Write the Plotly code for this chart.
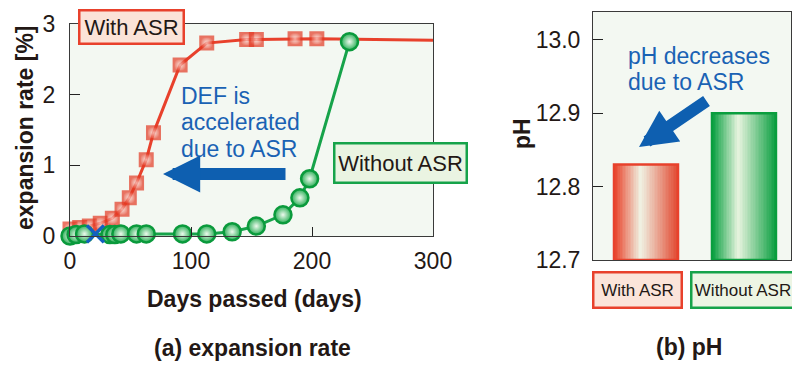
import plotly.graph_objects as go

# ---------------- data ----------------
# (a) expansion rate
red_days = [0, 8, 16, 25, 35, 43, 49, 55, 63, 69, 91, 113, 146, 154, 186, 204, 300]
red_vals = [0.10, 0.12, 0.14, 0.18, 0.25, 0.38, 0.54, 0.75, 1.08, 1.46, 2.42, 2.73, 2.78, 2.78, 2.79, 2.79, 2.77]
red_has_marker = [1] * 16 + [0]   # last point only extends the line to the frame

green_days = [0, 5, 12, 33, 37, 42, 55, 63, 93, 113, 134, 154, 176, 190, 198, 231]
green_vals = [0.00, 0.02, 0.03, 0.02, 0.02, 0.03, 0.03, 0.03, 0.03, 0.03, 0.06, 0.14, 0.30, 0.54, 0.81, 2.75]

cross_days = [21]
cross_vals = [0.03]

x_ticks = [0, 100, 200, 300]
y_ticks = [0, 1, 2, 3]

# (b) pH
ph_categories = ["With ASR", "Without ASR"]
ph_values = [12.83, 12.90]
ph_ticks = [12.7, 12.8, 12.9, 13.0]
ph_base = 12.7

# ---------------- styles ----------------
W, H = 800, 372
PAGE_OFFSET = 8   # the html body margin shifts the figure by 8px
FONT = "Liberation Sans, Arial, sans-serif"
TXT = "#231815"
RED = "#e8412c"
GREEN = "#16a34a"
BLUE = "#1a62b4"
ARROW = "#0e5fb0"
BG = "#f3f8f2"


def px_x(p):
    return (p - PAGE_OFFSET) / W


def px_y(p):
    return 1 - (p - PAGE_OFFSET) / H


def hex2rgb(h):
    h = h.lstrip("#")
    return tuple(int(h[i:i + 2], 16) for i in (0, 2, 4))


def lerp(c1, c2, t):
    a, b = hex2rgb(c1), hex2rgb(c2)
    return "rgb(%d,%d,%d)" % tuple(round(a[i] + (b[i] - a[i]) * t) for i in range(3))


def grad(edge_l, pale, edge_r, t, tc=0.42):
    if t <= tc:
        return lerp(edge_l, pale, t / tc)
    return lerp(pale, edge_r, (t - tc) / (1 - tc))


fig = go.Figure()

# ---- left chart traces ----
fig.add_trace(go.Scatter(
    x=red_days, y=red_vals, mode="lines+markers", xaxis="x", yaxis="y",
    line=dict(color=RED, width=3),
    marker=dict(symbol="square", size=[13 if m else 0 for m in red_has_marker],
                color="#e63c26", gradient=dict(type="radial", color="#fcdcd6"),
                line=dict(width=[2 if m else 0 for m in red_has_marker], color="#e33a24")),
    cliponaxis=False, hoverinfo="skip"))

fig.add_trace(go.Scatter(
    x=green_days, y=green_vals, mode="lines+markers", xaxis="x", yaxis="y",
    line=dict(color=GREEN, width=3),
    marker=dict(symbol="circle", size=17, color="#2aae56",
                gradient=dict(type="radial", color="#eefaee"),
                line=dict(width=2.5, color="#0a9a3c")),
    cliponaxis=False, hoverinfo="skip"))

fig.add_trace(go.Scatter(
    x=cross_days, y=cross_vals, mode="markers", xaxis="x", yaxis="y",
    marker=dict(symbol="x-thin", size=17, line=dict(width=3.5, color="#1560c0")),
    cliponaxis=False, hoverinfo="skip"))

# ---- right chart: gradient bars made of thin vertical strips ----
BAR_W = 0.653
N_STRIP = 40
strip_w = BAR_W / N_STRIP
red_edges = ("#e83a22", "#f0f3e4", "#e24a32")
green_edges = ("#009c3a", "#e8f4df", "#0ea043")
for j in range(N_STRIP):
    t = (j + 0.5) / N_STRIP
    fig.add_trace(go.Bar(
        x=ph_categories, y=[v - ph_base for v in ph_values], base=ph_base,
        xaxis="x2", yaxis="y2",
        width=strip_w * 1.15, offset=-BAR_W / 2 + j * strip_w,
        marker=dict(color=[grad(*red_edges, t), grad(*green_edges, t)], line=dict(width=0)),
        hoverinfo="skip"))

fig.add_trace(go.Bar(
    x=ph_categories, y=[v - ph_base for v in ph_values], base=ph_base,
    xaxis="x2", yaxis="y2", width=BAR_W,
    marker=dict(color="rgba(0,0,0,0)", line=dict(width=2.5, color=[RED, "#0a9e3e"])),
    hoverinfo="skip"))

axis_common = dict(showgrid=False, zeroline=False, showline=True, mirror=True, automargin=False,
                   linecolor="#3a3a3a", linewidth=1, tickcolor="#222",
                   tickfont=dict(family=FONT, size=23, color=TXT))

fig.update_layout(
    width=W, height=H, margin=dict(l=0, r=0, t=0, b=0, pad=0, autoexpand=False),
    paper_bgcolor="white", plot_bgcolor=BG, showlegend=False,
    barmode="overlay", font=dict(family=FONT, color=TXT),
    xaxis=dict(domain=[px_x(70), px_x(433)], range=[0, 300], tickvals=x_ticks, ticks="inside",
               ticklen=9, ticklabelstandoff=4, anchor="y", **axis_common),
    yaxis=dict(domain=[px_y(236), px_y(24)], range=[0, 3], tickvals=y_ticks, ticks="inside",
               ticklen=10, ticklabelstandoff=9, anchor="x", **axis_common),
    xaxis2=dict(domain=[px_x(593), px_x(791)], range=[-0.541, 1.480], type="category",
                showticklabels=False, ticks="", anchor="y2", **axis_common),
    yaxis2=dict(domain=[px_y(260), px_y(12)], range=[12.7, 13.038], tickvals=ph_ticks,
                tickformat=".1f", ticks="inside", ticklen=10, ticklabelstandoff=7, anchor="x2",
                **axis_common),
)

ann = []


def text_ann(text, x, y, size=23, bold=False, color=TXT, angle=0, xanchor="center"):
    ann.append(dict(text=("<b>%s</b>" % text) if bold else text, x=px_x(x), y=px_y(y),
                    xref="paper", yref="paper", showarrow=False, xanchor=xanchor,
                    yanchor="middle", textangle=angle,
                    font=dict(family=FONT, size=size, color=color)))


def box_ann(text, cx, cy, w, h, fill, border, size):
    ann.append(dict(text=text, x=px_x(cx), y=px_y(cy), xref="paper", yref="paper",
                    xanchor="center", yanchor="middle", showarrow=False,
                    width=w, height=h, bgcolor=fill, bordercolor=border,
                    borderwidth=2.5, borderpad=1, font=dict(family=FONT, size=size, color=TXT)))


# axis titles and captions
text_ann("expansion rate [%]", 25, 128, size=23, bold=True, angle=-90)
text_ann("Days passed (days)", 254, 299, size=23, bold=True)
text_ann("(a) expansion rate", 252, 348, size=23, bold=True)
text_ann("pH", 522, 134, size=23, bold=True, angle=-90)
text_ann("(b) pH", 689, 347, size=23, bold=True)

# blue notes (one annotation per line for a tight line spacing)
LINE_STEP = 26.5
for i, line in enumerate(["DEF is", "accelerated", "due to ASR"]):
    text_ann(line, 179, 95.5 + i * LINE_STEP, size=23, color=BLUE, xanchor="left")
for i, line in enumerate(["pH decreases", "due to ASR"]):
    text_ann(line, 626, 55.75 + i * LINE_STEP, size=23, color=BLUE, xanchor="left")

# series label boxes (left chart)
box_ann("With ASR", 131, 27.5, 100, 29, "#fbe3d8", RED, 22)
box_ann("Without ASR", 400, 162.5, 128, 35, "#eaf4e2", GREEN, 22)

# category boxes (right chart)
cat_box = [(637, 84, "#fbe4da", RED), (742.5, 99, "#edf5e4", GREEN)]
for cat, (cx, w, fill, border) in zip(ph_categories, cat_box):
    box_ann(cat, cx, 289.5, w, 31, fill, border, 17)

# arrows
ann.append(dict(text="", x=px_x(163), y=px_y(174), xref="paper", yref="paper",
                showarrow=True, ax=124, ay=0, arrowhead=2, arrowwidth=12, arrowsize=0.62,
                arrowcolor=ARROW))
ann.append(dict(text="", x=px_x(639), y=px_y(147), xref="paper", yref="paper",
                showarrow=True, ax=69, ay=-47, arrowhead=2, arrowwidth=12, arrowsize=0.62,
                arrowcolor=ARROW))

fig.update_layout(annotations=ann)
fig.write_html("out.html")
